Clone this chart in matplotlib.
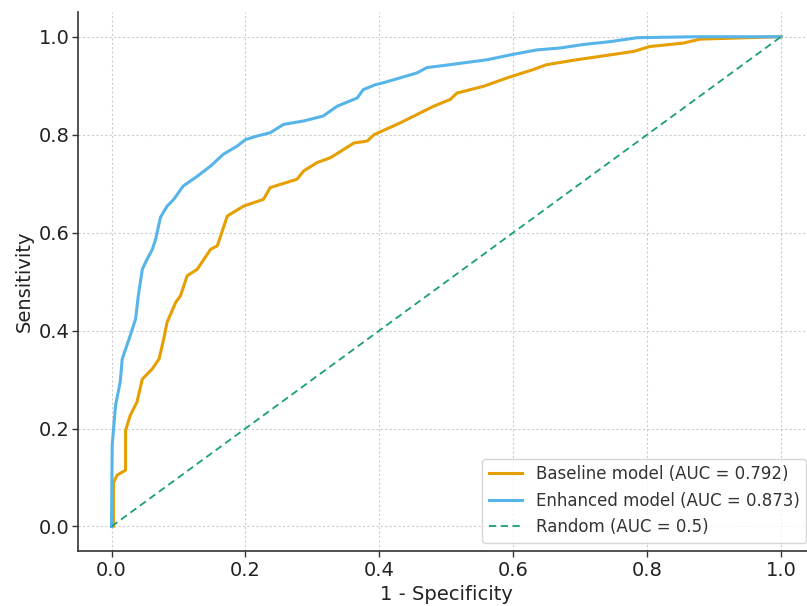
import matplotlib
matplotlib.use("Agg")
import matplotlib.pyplot as plt

# ROC points (false positive rate, true positive rate) for each model
baseline_fpr = [0.0, 0.003, 0.003, 0.0085, 0.021, 0.021, 0.028, 0.038, 0.046, 0.061,
                0.071, 0.078, 0.083, 0.096, 0.103, 0.113, 0.128, 0.148, 0.158, 0.173,
                0.197, 0.227, 0.237, 0.277, 0.287, 0.307, 0.327, 0.347, 0.362, 0.382,
                0.392, 0.431, 0.481, 0.506, 0.516, 0.556, 0.591, 0.630, 0.650, 0.695,
                0.745, 0.780, 0.804, 0.854, 0.879, 0.924, 1.0]
baseline_tpr = [0.0, 0.0, 0.09, 0.105, 0.115, 0.196, 0.227, 0.254, 0.301, 0.322,
                0.342, 0.383, 0.417, 0.458, 0.471, 0.512, 0.525, 0.566, 0.573, 0.634,
                0.654, 0.668, 0.692, 0.709, 0.726, 0.743, 0.753, 0.770, 0.783, 0.787,
                0.800, 0.824, 0.858, 0.872, 0.885, 0.899, 0.916, 0.933, 0.943, 0.953,
                0.963, 0.970, 0.980, 0.987, 0.995, 0.997, 1.0]

enhanced_fpr = [0.0, 0.001, 0.006, 0.013, 0.016, 0.028, 0.036, 0.040, 0.046, 0.051,
                0.061, 0.066, 0.073, 0.083, 0.093, 0.107, 0.128, 0.148, 0.167, 0.188,
                0.200, 0.217, 0.237, 0.257, 0.287, 0.316, 0.337, 0.367, 0.376, 0.394,
                0.406, 0.431, 0.456, 0.471, 0.506, 0.561, 0.596, 0.635, 0.670, 0.704,
                0.745, 0.785, 0.874, 1.0]
enhanced_tpr = [0.0, 0.166, 0.247, 0.295, 0.342, 0.390, 0.424, 0.471, 0.525, 0.540,
                0.566, 0.587, 0.631, 0.654, 0.668, 0.695, 0.715, 0.736, 0.760, 0.777,
                0.790, 0.797, 0.804, 0.821, 0.828, 0.838, 0.858, 0.875, 0.892, 0.902,
                0.906, 0.916, 0.926, 0.937, 0.943, 0.953, 0.963, 0.973, 0.977, 0.984,
                0.990, 0.998, 1.0, 1.0]

random_fpr = [0.0, 1.0]
random_tpr = [0.0, 1.0]

auc_baseline = 0.792
auc_enhanced = 0.873
auc_random = 0.5

ticks = [0.0, 0.2, 0.4, 0.6, 0.8, 1.0]

fig = plt.figure(figsize=(8.07, 6.06), dpi=100)
ax = fig.add_axes([0.0967, 0.0908, 0.9126, 0.889])

ax.plot(baseline_fpr, baseline_tpr, color="#E69F00", lw=2.2,
        label=f"Baseline model (AUC = {auc_baseline})")
ax.plot(enhanced_fpr, enhanced_tpr, color="#56B4E9", lw=2.2,
        label=f"Enhanced model (AUC = {auc_enhanced})")
ax.plot(random_fpr, random_tpr, color="#1a9e76", lw=1.3, ls=(0, (4, 2.5)),
        label=f"Random (AUC = {auc_random})")

ax.set_xlim(-0.05, 1.05)
ax.set_ylim(-0.05, 1.05)
ax.set_xticks(ticks)
ax.set_yticks(ticks)
ax.grid(True, color="#cccccc", lw=0.8, ls=(0, (2, 2)))
ax.set_axisbelow(True)

for side in ("top", "right"):
    ax.spines[side].set_visible(False)
for side in ("left", "bottom"):
    ax.spines[side].set_color("#333333")
    ax.spines[side].set_linewidth(1.2)

ax.tick_params(colors="#333333", labelsize=14, length=4, width=1, labelcolor="#222222")
ax.tick_params(axis="y", pad=2)
ax.set_xlabel("1 - Specificity", fontsize=14, color="#222222", labelpad=3)
ax.set_ylabel("Sensitivity", fontsize=14, color="#222222", labelpad=4)

leg = ax.legend(loc="lower right", fontsize=12, frameon=True, fancybox=True)
leg.get_frame().set_edgecolor("#cccccc")
for t in leg.get_texts():
    t.set_color("#333333")

fig.savefig("out.png", dpi=100)
